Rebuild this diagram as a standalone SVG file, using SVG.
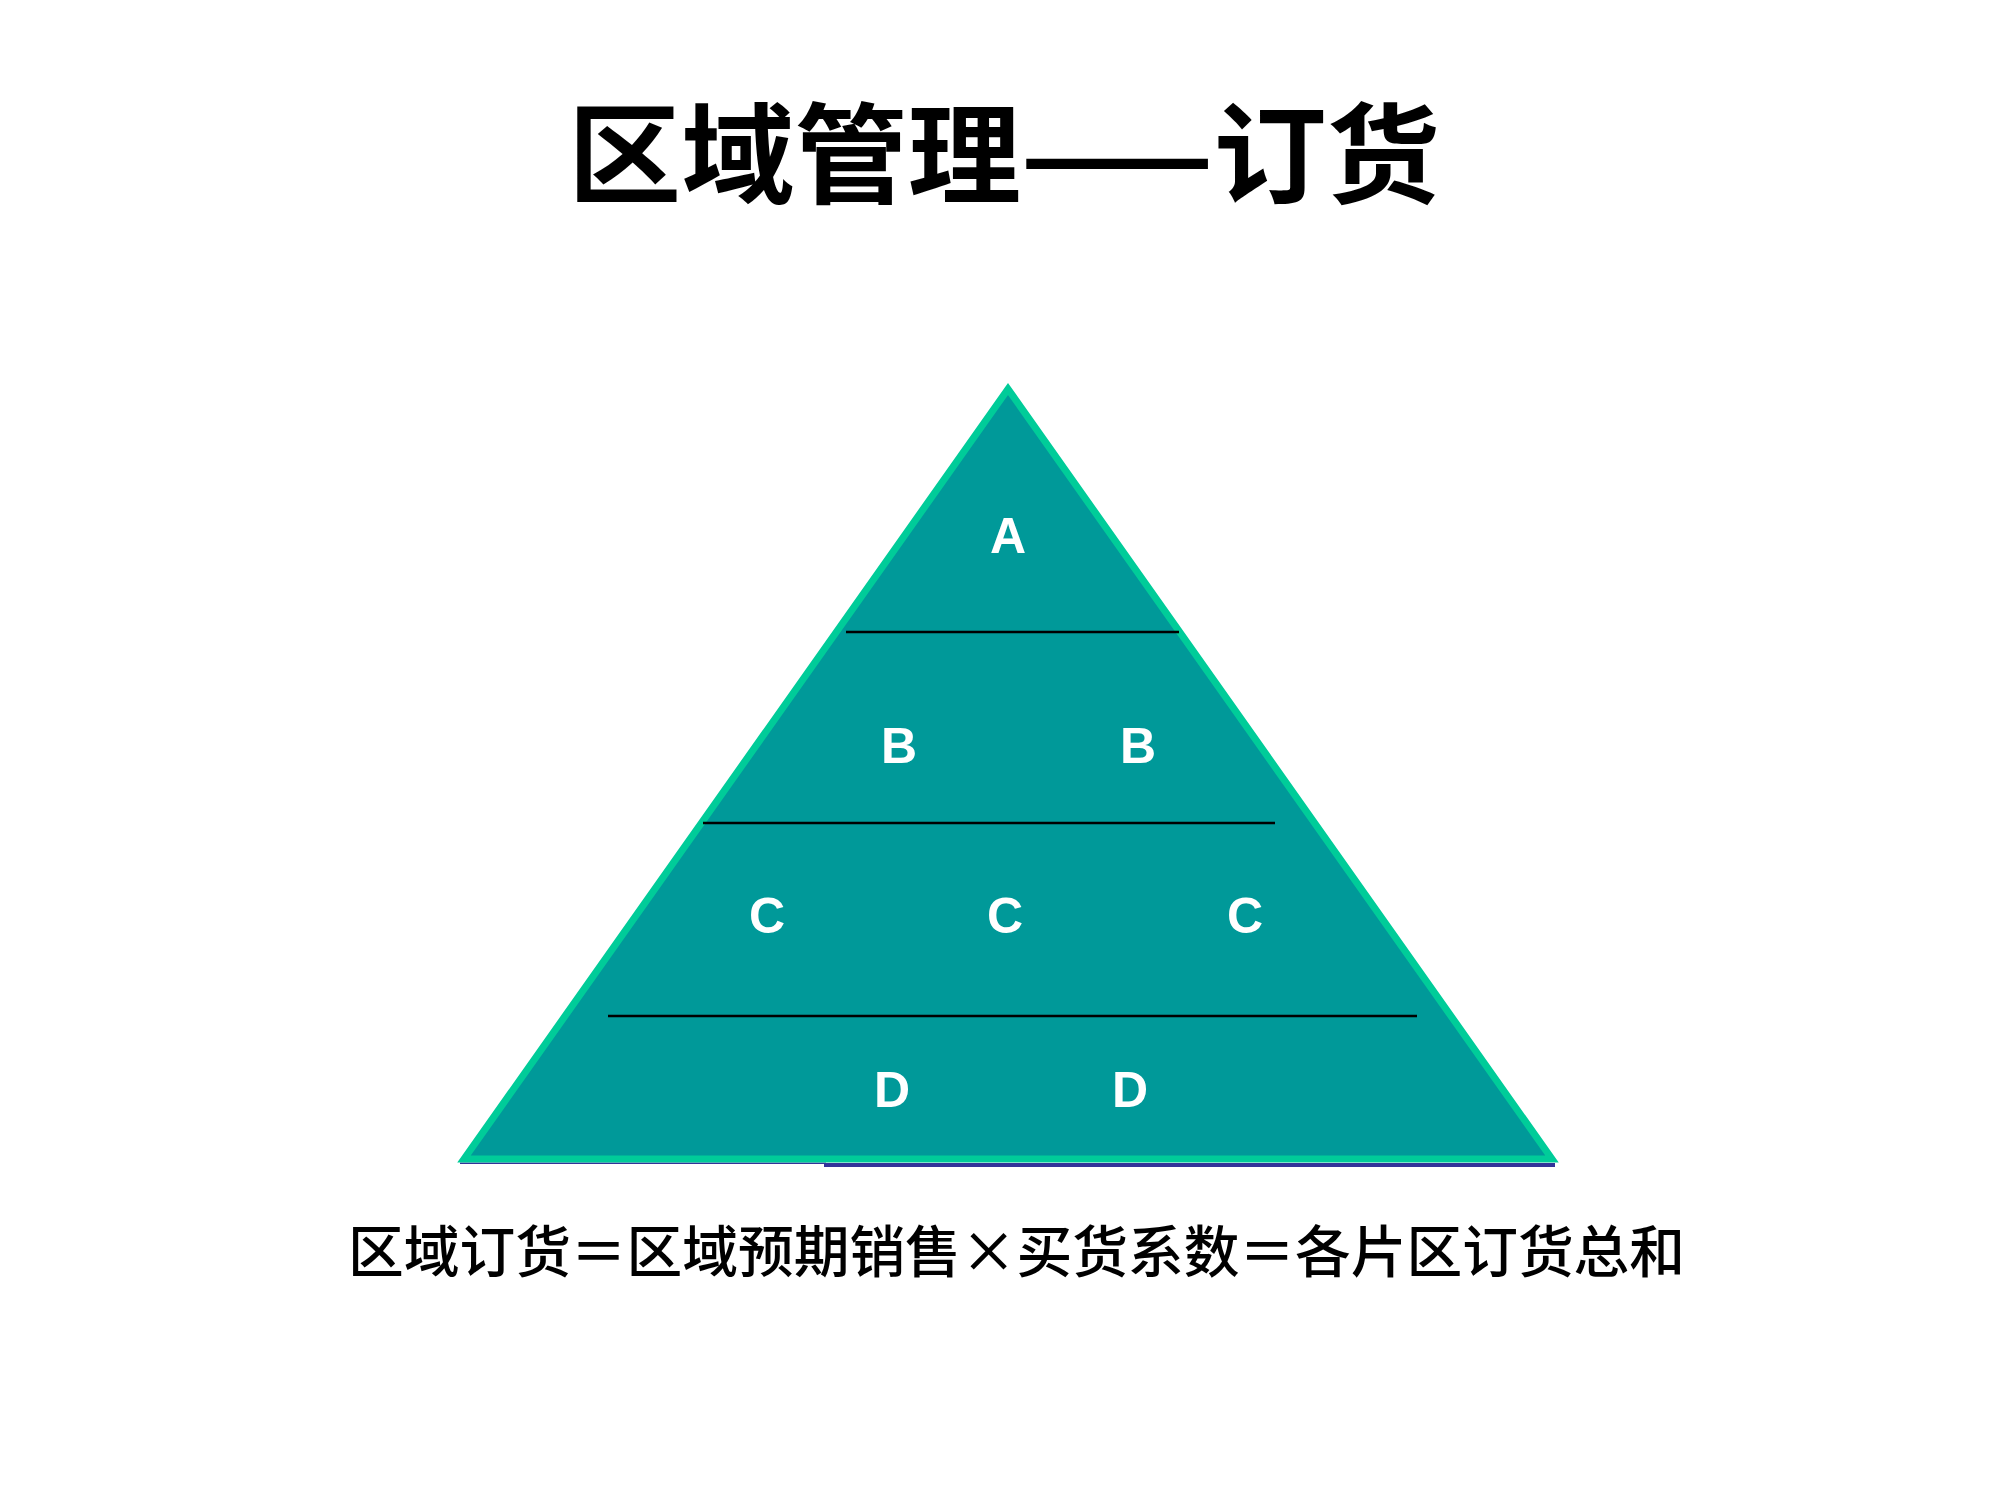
<svg xmlns="http://www.w3.org/2000/svg" width="2000" height="1500" viewBox="0 0 2000 1500">
  <style>
    .title { font-family: "Noto Sans CJK SC", "Liberation Serif", sans-serif; font-weight: 700; font-size: 109px; fill: #000; }
    .formula { font-family: "Noto Sans CJK SC", "Liberation Serif", sans-serif; font-weight: 500; font-size: 56px; fill: #000; }
    .lbl { font-family: "Liberation Sans", Arial, sans-serif; font-weight: 700; font-size: 50px; fill: #fff; text-anchor: middle; }
    .divider { stroke: #000; stroke-width: 2.5; fill: none; }
  </style>
  <rect x="0" y="0" width="2000" height="1500" fill="#fff"/>
  <g id="title">
    <text class="title" x="568" y="195" textLength="872" lengthAdjust="spacingAndGlyphs">区域管理——订货</text>
  </g>
  <g id="pyramid">
    <line x1="460" y1="1163.3" x2="826" y2="1163.3" stroke="#333399" stroke-width="1.5"/>
    <line x1="824" y1="1165" x2="1555" y2="1165" stroke="#333399" stroke-width="4"/>
    <polygon points="1008,389 464,1159 1552,1159" fill="#009999" stroke="#00cc99" stroke-width="7" stroke-linejoin="miter"/>
  </g>
  <g id="connectors">
    <line class="divider" x1="846" y1="632" x2="1179" y2="632"/>
    <line class="divider" x1="703" y1="823" x2="1275" y2="823"/>
    <line class="divider" x1="608" y1="1016" x2="1417" y2="1016"/>
  </g>
  <g id="tier-A">
    <text class="lbl" x="1008" y="553">A</text>
  </g>
  <g id="tier-B">
    <text class="lbl" x="899" y="763">B</text>
    <text class="lbl" x="1138" y="763">B</text>
  </g>
  <g id="tier-C">
    <text class="lbl" x="767" y="933">C</text>
    <text class="lbl" x="1005" y="933">C</text>
    <text class="lbl" x="1245" y="933">C</text>
  </g>
  <g id="tier-D">
    <text class="lbl" x="892" y="1107">D</text>
    <text class="lbl" x="1130" y="1107">D</text>
  </g>
  <g id="formula">
    <text class="formula" x="348" y="1272" textLength="1337" lengthAdjust="spacingAndGlyphs">区域订货＝区域预期销售×买货系数＝各片区订货总和</text>
  </g>
</svg>
